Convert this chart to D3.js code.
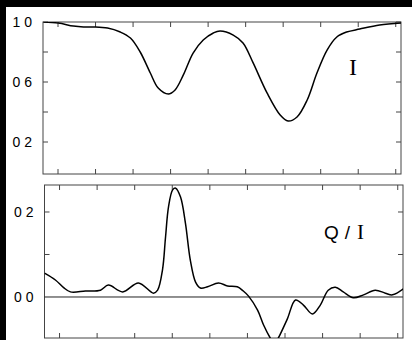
<!DOCTYPE html>
<html>
<head>
<meta charset="utf-8">
<script src="https://d3js.org/d3.v7.min.js"></script>
<style>
  body { margin: 0; background: #fff; }
  svg { display: block; }
</style>
</head>
<body>
<script>
// intensity I (x in tick units, 0..9)
var iX = [-0.39, 0.01, 0.41, 0.68, 0.94, 1.32, 1.66, 1.93, 2.19, 2.46, 2.67, 2.94, 3.12, 3.34, 3.60,
          3.87, 4.14, 4.32, 4.67, 4.93, 5.20, 5.57, 5.92, 6.13, 6.37, 6.64, 6.90, 7.17, 7.43, 7.69,
          8.04, 8.57, 9.14];
var iY = [1.0, 0.993, 0.973, 0.967, 0.967, 0.96, 0.933, 0.893, 0.80, 0.66, 0.56, 0.52, 0.547, 0.647, 0.793,
          0.88, 0.927, 0.94, 0.913, 0.86, 0.727, 0.527, 0.38, 0.34, 0.367, 0.48, 0.66, 0.813, 0.90, 0.933,
          0.953, 0.98, 0.993];

// polarisation Q/I
var qX = [-0.40, -0.11, 0.11, 0.29, 0.69, 1.09, 1.30, 1.68, 2.10, 2.50, 2.61, 2.74, 2.82, 2.90, 3.01,
          3.09, 3.22, 3.35, 3.48, 3.62, 3.75, 3.94, 4.23, 4.47, 4.73, 4.89, 5.03, 5.27, 5.43, 5.61,
          5.72, 5.82, 6.06, 6.28, 6.49, 6.73, 6.94, 7.15, 7.34, 7.55, 7.82, 8.09, 8.40, 8.67, 8.86, 9.15];
var qY = [0.056, 0.04, 0.022, 0.012, 0.014, 0.016, 0.028, 0.012, 0.033, 0.009, 0.016, 0.064, 0.14, 0.212, 0.252,
          0.256, 0.235, 0.174, 0.087, 0.035, 0.021, 0.024, 0.033, 0.026, 0.024, 0.014, 0.002, -0.031, -0.066, -0.097,
          -0.112, -0.097, -0.052, -0.007, -0.019, -0.04, -0.019, 0.016, 0.023, 0.012, -0.002, 0.005, 0.016, 0.009, 0.005, 0.019];

var xTicks = [0, 1, 2, 3, 4, 5, 6, 7, 8, 9];
var iTicks = [1.0, 0.8, 0.6, 0.4, 0.2];
var iLabels = [[1.0, "1 0"], [0.6, "0 6"], [0.2, "0 2"]];
var qTicks = [0.2, 0.1];
var qLabels = [[0.2, "0 2"], [0.0, "0 0"]];

var W = 412, H = 340;
var svg = d3.select("body").append("svg").attr("width", W).attr("height", H);

// scan border
svg.append("rect").attr("x", 0).attr("y", 0).attr("width", W).attr("height", 7).attr("fill", "#000");
svg.append("rect").attr("x", 0).attr("y", 0).attr("width", 6).attr("height", H).attr("fill", "#000");

var axisCol = "#444";

function panel(opts) {
  var x = d3.scaleLinear().domain([-0.4, 9.14]).range([opts.left, opts.right]);
  var y = d3.scaleLinear().domain(opts.ydom).range([opts.bottom, opts.top]);
  var g = svg.append("g");

  g.append("clipPath").attr("id", opts.id)
    .append("rect").attr("x", opts.left).attr("y", opts.top)
    .attr("width", opts.right - opts.left).attr("height", opts.bottom - opts.top);

  g.append("rect")
    .attr("x", opts.left).attr("y", opts.top)
    .attr("width", opts.right - opts.left).attr("height", opts.bottom - opts.top)
    .attr("fill", "none").attr("stroke", axisCol).attr("stroke-width", 1);

  // inward ticks on all four sides
  var tl = 5;
  xTicks.forEach(function (t) {
    g.append("line").attr("x1", x(t)).attr("x2", x(t)).attr("y1", opts.top).attr("y2", opts.top + tl)
      .attr("stroke", axisCol);
    g.append("line").attr("x1", x(t)).attr("x2", x(t)).attr("y1", opts.bottom).attr("y2", opts.bottom - tl)
      .attr("stroke", axisCol);
  });
  opts.yticks.forEach(function (t) {
    g.append("line").attr("x1", opts.left).attr("x2", opts.left + tl).attr("y1", y(t)).attr("y2", y(t))
      .attr("stroke", axisCol);
    g.append("line").attr("x1", opts.right).attr("x2", opts.right - tl).attr("y1", y(t)).attr("y2", y(t))
      .attr("stroke", axisCol);
  });

  opts.labels.forEach(function (d) {
    g.append("text")
      .attr("x", opts.left - 11).attr("y", y(d[0]))
      .attr("dy", "0.36em")
      .attr("text-anchor", "end")
      .style("font-family", "Liberation Sans, sans-serif")
      .style("font-size", "14px")
      .text(d[1]);
  });

  if (opts.zero) {
    g.append("line").attr("x1", opts.left).attr("x2", opts.right).attr("y1", y(0)).attr("y2", y(0))
      .attr("stroke", "#222").attr("stroke-width", 1);
  }

  var line = d3.line()
    .x(function (d) { return x(d[0]); })
    .y(function (d) { return y(d[1]); })
    .curve(d3.curveCatmullRom.alpha(0.5));

  g.append("path")
    .datum(d3.zip(opts.xs, opts.ys))
    .attr("clip-path", "url(#" + opts.id + ")")
    .attr("d", line)
    .attr("fill", "none")
    .attr("stroke", "#000")
    .attr("stroke-width", 1.5);

  return g;
}

var topPanel = panel({ id: "cTop", left: 43, right: 401, top: 22, bottom: 174,
  ydom: [-0.0133, 1.0], yticks: iTicks, labels: iLabels, xs: iX, ys: iY });

var botPanel = panel({ id: "cBot", left: 44.5, right: 403, top: 185, bottom: 338,
  ydom: [-0.0965, 0.2635], yticks: qTicks, labels: qLabels, xs: qX, ys: qY, zero: true });

topPanel.append("text")
  .attr("x", 353).attr("y", 75)
  .attr("text-anchor", "middle")
  .style("font-family", "Liberation Serif, serif")
  .style("font-size", "24px")
  .text("I");

var qi = botPanel.append("text")
  .attr("x", 324).attr("y", 239)
  .style("font-size", "19px");
qi.append("tspan").style("font-family", "Liberation Sans, sans-serif").text("Q");
qi.append("tspan").attr("dx", 6).style("font-family", "Liberation Sans, sans-serif").text("/");
qi.append("tspan").attr("dx", 7).style("font-family", "Liberation Serif, serif").style("font-size", "21px").text("I");
</script>
</body>
</html>
